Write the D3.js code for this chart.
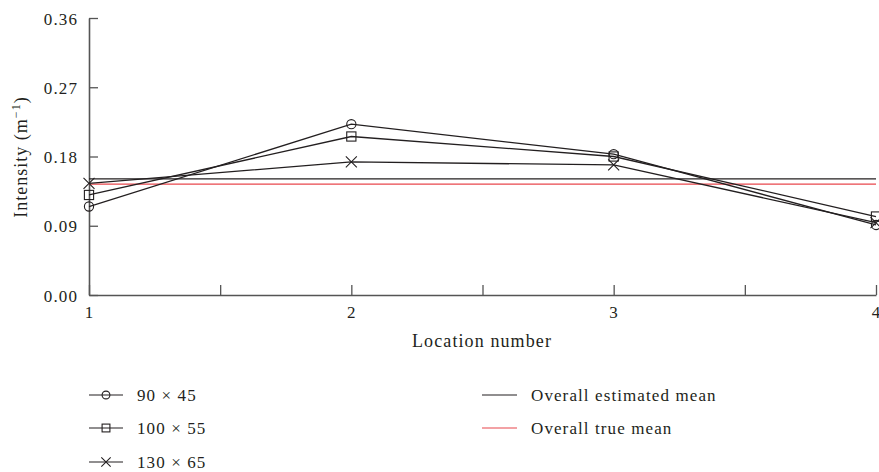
<!DOCTYPE html>
<html><head><meta charset="utf-8">
<script src="https://cdn.jsdelivr.net/npm/d3@7"></script>
<style>body{margin:0;background:#fff}svg text{font-family:"Liberation Serif","Times New Roman",serif;fill:#231f20}</style>
</head><body><svg id="c" width="879" height="472"></svg>
<script>
const locations = [1, 2, 3, 4];
const seriesNames = ["90 × 45", "100 × 55", "130 × 65"];
const seriesMarkers = ["circle", "square", "cross"];
const s90x45 = [0.115, 0.222, 0.183, 0.091];
const s100x55 = [0.130, 0.206, 0.180, 0.102];
const s130x65 = [0.145, 0.173, 0.169, 0.094];
const estimatedMean = 0.151;
const trueMean = 0.144;
const yTicks = [0, 0.09, 0.18, 0.27, 0.36];
const xTicks = [1, 1.5, 2, 2.5, 3, 3.5, 4];

const svg = d3.select("#c");
const x = d3.scaleLinear().domain([1, 4]).range([89, 876]);
const y = d3.scaleLinear().domain([0, 0.36]).range([295, 18]);
const axisColor = "#555";
const fs = 17, ls = "1.1px";

// axes
const ya = svg.append("g").attr("transform", "translate(89,0)")
  .call(d3.axisLeft(y).tickValues(yTicks).tickFormat(d3.format(".2f")).tickSizeInner(-9).tickSizeOuter(0).tickPadding(11));
const xa = svg.append("g").attr("transform", "translate(0,295)")
  .call(d3.axisBottom(x).tickValues(xTicks).tickFormat(d => Number.isInteger(d) ? d : "").tickSizeInner(-10).tickSizeOuter(0).tickPadding(7));
[ya, xa].forEach(g => {
  g.select(".domain").attr("stroke", axisColor).attr("stroke-width", 1.6);
  g.selectAll(".tick line").attr("stroke", axisColor).attr("stroke-width", 1.3);
  g.selectAll(".tick text").attr("font-size", fs).style("letter-spacing", ls).attr("fill", "#231f20");
});
ya.selectAll(".tick text").attr("dy", "0.36em");
xa.selectAll(".tick text").attr("dy", "0.95em");

// mean lines
svg.append("line").attr("x1", x(1)).attr("x2", x(4)).attr("y1", y(estimatedMean)).attr("y2", y(estimatedMean))
  .attr("stroke", "#231f20").attr("stroke-width", 1.2);
svg.append("line").attr("x1", x(1)).attr("x2", x(4)).attr("y1", y(trueMean)).attr("y2", y(trueMean))
  .attr("stroke", "#e8474c").attr("stroke-width", 1.2);

// series
const allSeries = [s90x45, s100x55, s130x65];
function marker(g, type, cx, cy, scale) {
  const k = scale || 1;
  if (type === "circle") g.append("circle").attr("cx", cx).attr("cy", cy).attr("r", 4.6 * k).attr("fill", "none").attr("stroke", "#231f20").attr("stroke-width", 1.1);
  else if (type === "square") g.append("rect").attr("x", cx - 4.6 * k).attr("y", cy - 4.6 * k).attr("width", 9.2 * k).attr("height", 9.2 * k).attr("fill", "none").attr("stroke", "#231f20").attr("stroke-width", 1.1);
  else {
    const r = 5.5 * k;
    g.append("path").attr("d", `M${cx - r},${cy - r}L${cx + r},${cy + r}M${cx - r},${cy + r}L${cx + r},${cy - r}`).attr("stroke", "#231f20").attr("stroke-width", 1.1);
  }
}
const line = d3.line().x((d, i) => x(locations[i])).y(d => y(d));
allSeries.forEach((s, si) => {
  const g = svg.append("g");
  g.append("path").attr("d", line(s)).attr("fill", "none").attr("stroke", "#231f20").attr("stroke-width", 1.3);
  s.forEach((v, i) => marker(g, seriesMarkers[si], x(locations[i]), y(v)));
});

// axis titles
svg.append("text").attr("x", 482).attr("y", 347).attr("text-anchor", "middle").attr("font-size", 18).style("letter-spacing", "1.1px").text("Location number");
const yl = svg.append("text").attr("transform", "translate(27,157) rotate(-90)").attr("text-anchor", "middle").attr("font-size", 18).style("letter-spacing", "1px");
yl.append("tspan").text("Intensity (m");
yl.append("tspan").attr("dy", -7).attr("font-size", 12).text("−1");
yl.append("tspan").attr("dy", 7).text(")");

// legend
const legRows = [395, 428, 462];
seriesNames.forEach((n, i) => {
  const g = svg.append("g");
  g.append("line").attr("x1", 89).attr("x2", 123).attr("y1", legRows[i]).attr("y2", legRows[i]).attr("stroke", "#231f20").attr("stroke-width", 1.1);
  marker(g, seriesMarkers[i], 106, legRows[i], 0.85);
  g.append("text").attr("x", 137).attr("y", legRows[i]).attr("dy", "0.35em").attr("font-size", fs).style("letter-spacing", ls).text(n);
});
const meanNames = ["Overall estimated mean", "Overall true mean"];
const meanColors = ["#231f20", "#e8474c"];
meanNames.forEach((n, i) => {
  svg.append("line").attr("x1", 482).attr("x2", 517).attr("y1", legRows[i]).attr("y2", legRows[i]).attr("stroke", meanColors[i]).attr("stroke-width", 1.1);
  svg.append("text").attr("x", 531).attr("y", legRows[i]).attr("dy", "0.35em").attr("font-size", fs).style("letter-spacing", ls).text(n);
});
</script></body></html>
